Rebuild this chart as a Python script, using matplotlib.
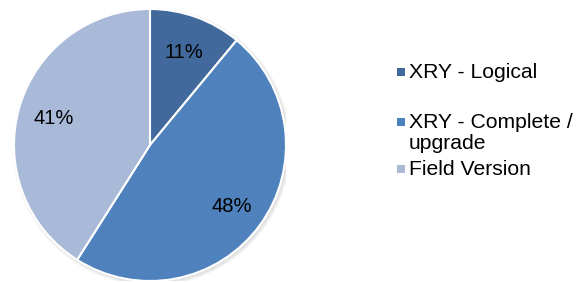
import matplotlib.pyplot as plt
from matplotlib.patches import Circle, Rectangle

plt.rcParams['font.family'] = ['Liberation Sans', 'DejaVu Sans']

# Data
labels = ['XRY - Logical', 'XRY - Complete /\nupgrade', 'Field Version']
shares = [11, 48, 41]
colors = ['#41699C', '#4F81BD', '#A9B9D8']

W, H = 578, 282
fig = plt.figure(figsize=(W / 100, H / 100), dpi=100)

# pie axes: center (150,145) px, radius 136 px
cx, cy, r = 150, 145, 136
ax = fig.add_axes([(cx - r) / W, (H - cy - r) / H, 2 * r / W, 2 * r / H])

# soft shadow behind the pie
for k, a in enumerate([0.10, 0.08, 0.06]):
    ax.add_patch(Circle((0.012, -0.012), 1.0 + 0.008 * (k + 1), facecolor='#808080',
                        edgecolor='none', alpha=a, zorder=0))

wedges, texts, autotexts = ax.pie(
    shares, colors=colors, startangle=90, counterclock=False,
    autopct='%d%%', pctdistance=0.74, radius=1.0,
    wedgeprops=dict(edgecolor='white', linewidth=1.5),
    textprops=dict(fontsize=14.5, color='black'))
for w in wedges:
    w.set_zorder(2)
for t in autotexts:
    t.set_zorder(3)
    t.set_va('center_baseline')
ax.set_xlim(-1.0, 1.0)
ax.set_ylim(-1.0, 1.0)
ax.set_aspect('equal')
ax.axis('off')

# legend, drawn by hand to match the wrapped layout
text_x = 409
baselines = [78, 128, 175]
line_gap = 21
for lab, col, base in zip(labels, colors, baselines):
    fig.patches.append(Rectangle((397 / W, (H - base + 2) / H), 8 / W, 8 / H,
                                 transform=fig.transFigure, facecolor=col,
                                 edgecolor='none'))
    for i, line in enumerate(lab.split('\n')):
        fig.text(text_x / W, (H - base - i * line_gap) / H, line, fontsize=15.2,
                 va='baseline', ha='left', color='black')

fig.savefig('out.png', dpi=100)
